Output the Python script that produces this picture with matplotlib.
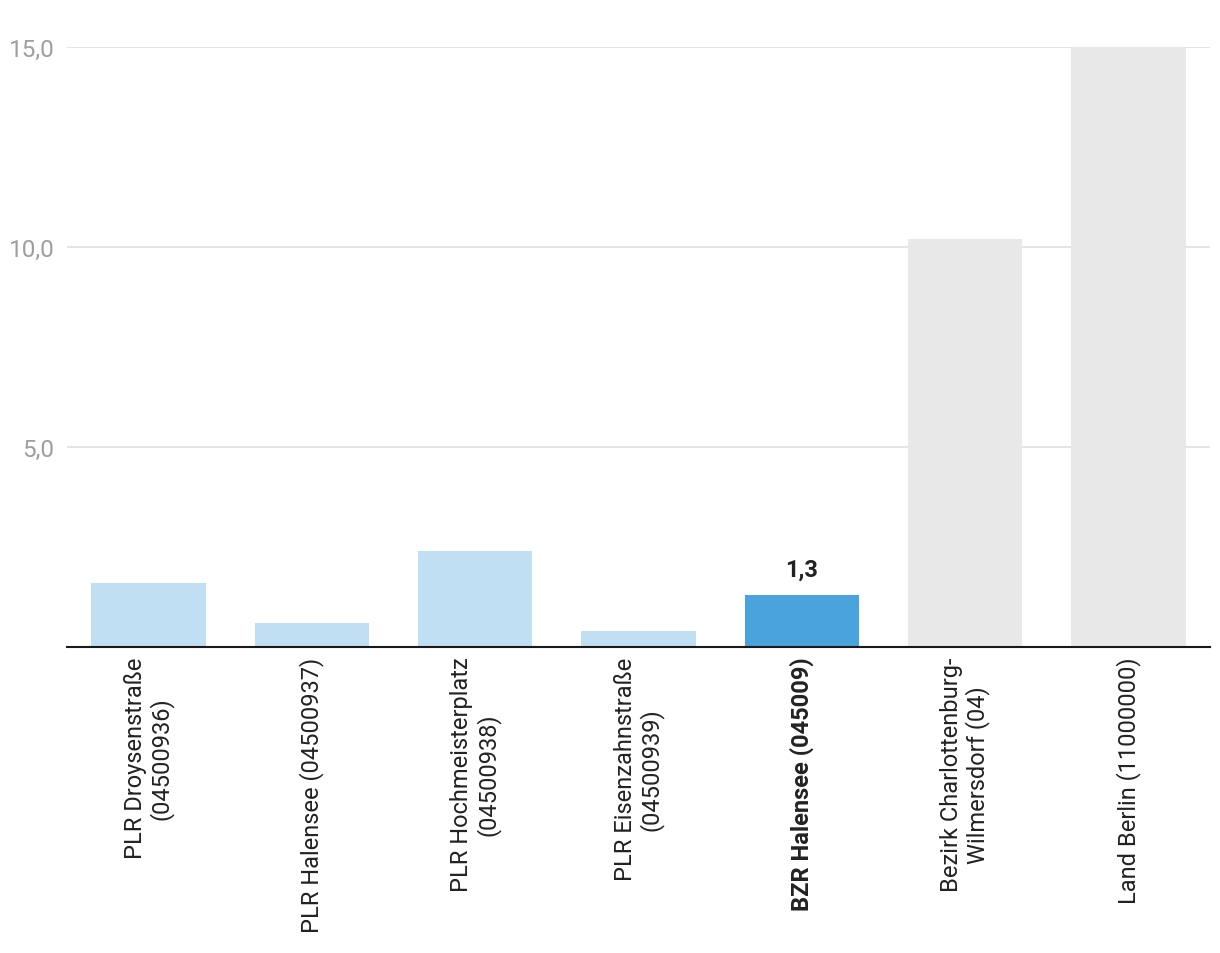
import matplotlib.pyplot as plt
from matplotlib.ticker import FuncFormatter

plt.rcParams['font.family'] = ['Roboto', 'DejaVu Sans']

labels = [
    "PLR Droysenstraße\n(04500936)",
    "PLR Halensee (04500937)",
    "PLR Hochmeisterplatz\n(04500938)",
    "PLR Eisenzahnstraße\n(04500939)",
    "BZR Halensee (045009)",
    "Bezirk Charlottenburg-\nWilmersdorf (04)",
    "Land Berlin (11000000)",
]
values = [1.6, 0.6, 2.4, 0.4, 1.3, 10.2, 15.0]
colors = ['#c1dff3', '#c1dff3', '#c1dff3', '#c1dff3', '#4ba3de', '#e8e8e8', '#e8e8e8']
highlight = 4

fig = plt.figure(figsize=(12.2, 9.54), dpi=100)
ax = fig.add_axes([67 / 1220, (954 - 648) / 954, (1210 - 67) / 1220, 600 / 954])

x = range(len(labels))
ax.bar(x, values, width=0.7, color=colors, zorder=2)
ax.set_xlim(-0.5, len(labels) - 0.5)
ax.set_ylim(0, 15)
ax.set_yticks([5, 10, 15])
ax.yaxis.set_major_formatter(FuncFormatter(lambda v, p: f"{v:.1f}".replace('.', ',')))
ax.grid(axis='y', color='#e0e0e0', linewidth=1.2, zorder=0)
ax.tick_params(axis='y', length=0, pad=9, labelsize=17.5, labelcolor='#9e9e9e')
ax.tick_params(axis='x', length=0, pad=7)

for s in ['top', 'right', 'left']:
    ax.spines[s].set_visible(False)
ax.spines['bottom'].set_color('#1a1a1a')
ax.spines['bottom'].set_linewidth(1.5)
ax.spines['bottom'].set_zorder(3)

ax.set_xticks(list(x))
ax.set_xticklabels(labels, rotation=90, ha='center', va='top',
                   multialignment='center', fontsize=17, color='#222222',
                   linespacing=1.1)
ax.get_xticklabels()[highlight].set_fontweight('bold')

ax.text(highlight, values[highlight] + 0.35, f"{values[highlight]:.1f}".replace('.', ','),
        ha='center', va='bottom', fontsize=17, fontweight='bold', color='#222222')

fig.savefig('out.png', dpi=100, facecolor='white')
